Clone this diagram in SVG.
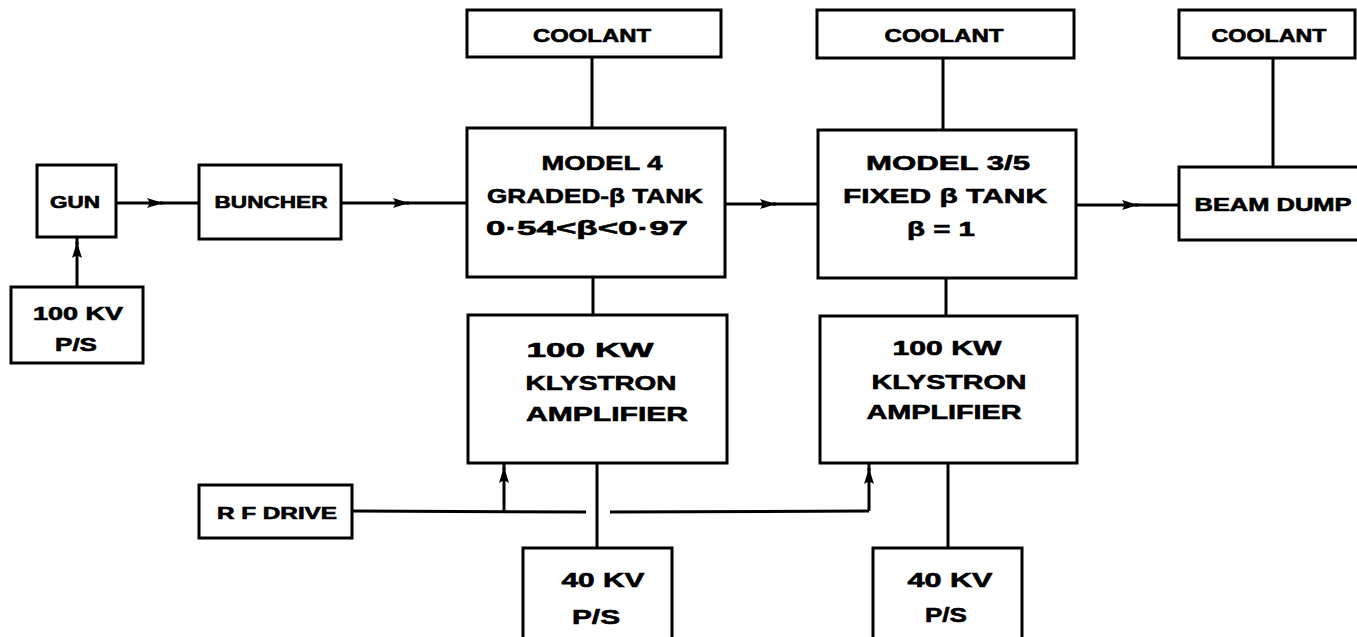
<svg xmlns="http://www.w3.org/2000/svg" width="1357" height="637" viewBox="0 0 1357 637">
<defs>
<style>
.box{fill:#fff;stroke:#000;stroke-width:3}
.ln{fill:none;stroke:#000;stroke-width:3}
text{font-family:"Liberation Sans",Arial,sans-serif;font-weight:bold;fill:#000;stroke:#000;stroke-width:0.6;text-anchor:middle;dominant-baseline:central}
.s16{font-size:16px}
.s18{font-size:18px}
.s20{font-size:20px}
.s21{font-size:21px}
</style>
<marker id="arr" viewBox="0 0 16 12" refX="16" refY="6" markerWidth="16" markerHeight="12" markerUnits="userSpaceOnUse" orient="auto">
<path d="M0,1 Q4,6 0,11 L16,6 Z" fill="#000"/>
</marker>
</defs>
<rect width="1357" height="637" fill="#fff"/>

<g id="connectors">
<line class="ln" x1="77" y1="287" x2="77" y2="242" marker-end="url(#arr)"/>
<line class="ln" x1="77" y1="245" x2="77" y2="237"/>
<line class="ln" x1="116" y1="203" x2="163" y2="203" marker-end="url(#arr)"/>
<line class="ln" x1="160" y1="203" x2="199" y2="203"/>
<line class="ln" x1="341" y1="203" x2="409" y2="203" marker-end="url(#arr)"/>
<line class="ln" x1="406" y1="203" x2="467" y2="203"/>
<line class="ln" x1="725" y1="204" x2="776" y2="204" marker-end="url(#arr)"/>
<line class="ln" x1="773" y1="204" x2="818" y2="204"/>
<line class="ln" x1="1076" y1="205" x2="1138" y2="205" marker-end="url(#arr)"/>
<line class="ln" x1="1135" y1="205" x2="1179" y2="205"/>
<line class="ln" x1="592" y1="57" x2="592" y2="128"/>
<line class="ln" x1="943" y1="58" x2="943" y2="130"/>
<line class="ln" x1="1273" y1="58" x2="1273" y2="167"/>
<line class="ln" x1="593" y1="277" x2="593" y2="315"/>
<line class="ln" x1="946" y1="278" x2="946" y2="316"/>
<line class="ln" x1="597" y1="463" x2="597" y2="548"/>
<line class="ln" x1="948" y1="463" x2="948" y2="548"/>
<line class="ln" x1="352" y1="511" x2="586" y2="512"/>
<line class="ln" x1="610" y1="512" x2="869" y2="511"/>
<line class="ln" x1="504" y1="512" x2="504" y2="467" marker-end="url(#arr)"/>
<line class="ln" x1="504" y1="470" x2="504" y2="463"/>
<line class="ln" x1="869" y1="511" x2="869" y2="468" marker-end="url(#arr)"/>
<line class="ln" x1="869" y1="471" x2="869" y2="463"/>
</g>

<g id="gun">
<rect class="box" x="37" y="165" width="79" height="72"/>
<text class="s16" x="75" y="202" textLength="50" lengthAdjust="spacingAndGlyphs">GUN</text>
</g>
<g id="hv100">
<rect class="box" x="11" y="287" width="132" height="76"/>
<text class="s18" x="78" y="314" textLength="90" lengthAdjust="spacingAndGlyphs">100 KV</text>
<text class="s18" x="76" y="345" textLength="42" lengthAdjust="spacingAndGlyphs">P/S</text>
</g>
<g id="buncher">
<rect class="box" x="199" y="165" width="142" height="74"/>
<text class="s16" x="271" y="202" textLength="113" lengthAdjust="spacingAndGlyphs">BUNCHER</text>
</g>
<g id="coolant1">
<rect class="box" x="467" y="10" width="254" height="47"/>
<text class="s18" x="592" y="36" textLength="118" lengthAdjust="spacingAndGlyphs">COOLANT</text>
</g>
<g id="tank4">
<rect class="box" x="467" y="128" width="258" height="149"/>
<text class="s21" x="602" y="162" textLength="121" lengthAdjust="spacingAndGlyphs">MODEL 4</text>
<text class="s21" x="595" y="195" textLength="216" lengthAdjust="spacingAndGlyphs">GRADED-β TANK</text>
<text class="s21" x="587" y="227" textLength="202" lengthAdjust="spacingAndGlyphs">0·54&lt;β&lt;0·97</text>
</g>
<g id="coolant2">
<rect class="box" x="817" y="10" width="257" height="48"/>
<text class="s18" x="944" y="36" textLength="119" lengthAdjust="spacingAndGlyphs">COOLANT</text>
</g>
<g id="tank35">
<rect class="box" x="818" y="130" width="258" height="148"/>
<text class="s21" x="948" y="162" textLength="164" lengthAdjust="spacingAndGlyphs">MODEL 3/5</text>
<text class="s21" x="945" y="195" textLength="204" lengthAdjust="spacingAndGlyphs">FIXED β TANK</text>
<text class="s21" x="941" y="228" textLength="68" lengthAdjust="spacingAndGlyphs">β = 1</text>
</g>
<g id="coolant3">
<rect class="box" x="1179" y="10" width="176" height="48"/>
<text class="s18" x="1269" y="36" textLength="115" lengthAdjust="spacingAndGlyphs">COOLANT</text>
</g>
<g id="beamdump">
<rect class="box" x="1179" y="167" width="180" height="73"/>
<text class="s18" x="1273" y="205" textLength="157" lengthAdjust="spacingAndGlyphs">BEAM DUMP</text>
</g>
<g id="klystron1">
<rect class="box" x="468" y="315" width="259" height="148"/>
<text class="s20" x="590" y="350" textLength="127" lengthAdjust="spacingAndGlyphs">100 KW</text>
<text class="s20" x="601" y="383" textLength="151" lengthAdjust="spacingAndGlyphs">KLYSTRON</text>
<text class="s20" x="607" y="414" textLength="162" lengthAdjust="spacingAndGlyphs">AMPLIFIER</text>
</g>
<g id="klystron2">
<rect class="box" x="820" y="316" width="257" height="147"/>
<text class="s20" x="947" y="348" textLength="109" lengthAdjust="spacingAndGlyphs">100  KW</text>
<text class="s20" x="949" y="382" textLength="155" lengthAdjust="spacingAndGlyphs">KLYSTRON</text>
<text class="s20" x="944" y="412" textLength="155" lengthAdjust="spacingAndGlyphs">AMPLIFIER</text>
</g>
<g id="rfdrive">
<rect class="box" x="199" y="485" width="153" height="53"/>
<text class="s16" x="277" y="513" textLength="120" lengthAdjust="spacingAndGlyphs">R F DRIVE</text>
</g>
<g id="ps40a">
<rect class="box" x="523" y="548" width="149" height="95"/>
<text class="s20" x="603" y="580" textLength="83" lengthAdjust="spacingAndGlyphs">40 KV</text>
<text class="s20" x="596" y="617" textLength="48" lengthAdjust="spacingAndGlyphs">P/S</text>
</g>
<g id="ps40b">
<rect class="box" x="873" y="548" width="149" height="95"/>
<text class="s20" x="950" y="580" textLength="85" lengthAdjust="spacingAndGlyphs">40 KV</text>
<text class="s20" x="946" y="615" textLength="42" lengthAdjust="spacingAndGlyphs">P/S</text>
</g>
</svg>
